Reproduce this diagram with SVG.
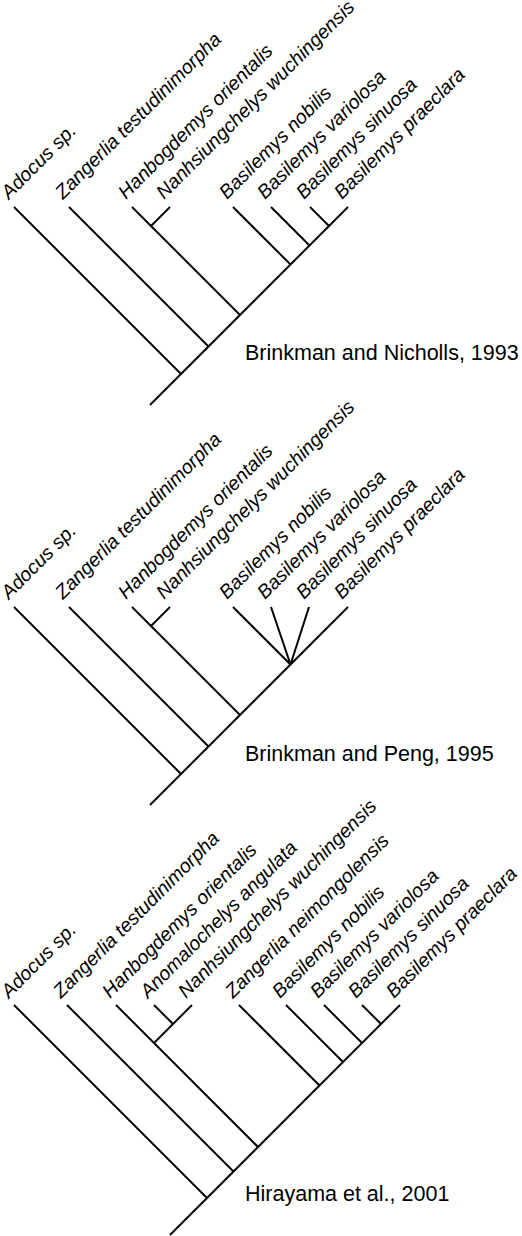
<svg xmlns="http://www.w3.org/2000/svg" width="522" height="1236" viewBox="0 0 522 1236">
<style>
.e{stroke:#000;stroke-width:2;fill:none;stroke-linecap:butt}
.l{font-family:"Liberation Sans",Arial,sans-serif;font-style:italic;font-size:19.5px;fill:#000}
.t{font-family:"Liberation Sans",Arial,sans-serif;font-size:21.5px;fill:#000}
</style>
<rect width="522" height="1236" fill="#fff"/>
<g id="tree1">
<g id="connectors1" class="e">
<line x1="150" y1="405" x2="348" y2="207"/>
<line x1="14" y1="207" x2="181" y2="374"/>
<line x1="69" y1="207" x2="208.5" y2="346.5"/>
<line x1="132" y1="207" x2="240" y2="315"/>
<line x1="170" y1="207" x2="151" y2="226"/>
<line x1="233" y1="207" x2="290.5" y2="264.5"/>
<line x1="271" y1="207" x2="309.5" y2="245.5"/>
<line x1="310" y1="207" x2="329" y2="226"/>
</g>
<g id="labels1" class="l">
<text transform="translate(9,200) rotate(-45)">Adocus sp.</text>
<text transform="translate(63,200) rotate(-45)">Zangerlia testudinimorpha</text>
<text transform="translate(126,200) rotate(-45)">Hanbogdemys orientalis</text>
<text transform="translate(164,200) rotate(-45)">Nanhsiungchelys wuchingensis</text>
<text transform="translate(227,200) rotate(-45)">Basilemys nobilis</text>
<text transform="translate(265,200) rotate(-45)">Basilemys variolosa</text>
<text transform="translate(304,200) rotate(-45)">Basilemys sinuosa</text>
<text transform="translate(342,200) rotate(-45)">Basilemys praeclara</text>
</g>
<text id="title1" class="t" x="245" y="360">Brinkman and Nicholls, 1993</text>
</g>
<g id="tree2">
<g id="connectors2" class="e">
<line x1="150" y1="805" x2="348" y2="607"/>
<line x1="14" y1="607" x2="181" y2="774"/>
<line x1="69" y1="607" x2="208.5" y2="746.5"/>
<line x1="132" y1="607" x2="240" y2="715"/>
<line x1="170" y1="607" x2="151" y2="626"/>
<line x1="233" y1="607" x2="290.5" y2="664.5"/>
<line x1="271" y1="607" x2="290.5" y2="664.5"/>
<line x1="309" y1="607" x2="290.5" y2="664.5"/>
</g>
<g id="labels2" class="l">
<text transform="translate(9,600) rotate(-45)">Adocus sp.</text>
<text transform="translate(63,600) rotate(-45)">Zangerlia testudinimorpha</text>
<text transform="translate(126,600) rotate(-45)">Hanbogdemys orientalis</text>
<text transform="translate(164,600) rotate(-45)">Nanhsiungchelys wuchingensis</text>
<text transform="translate(227,600) rotate(-45)">Basilemys nobilis</text>
<text transform="translate(265,600) rotate(-45)">Basilemys variolosa</text>
<text transform="translate(304,600) rotate(-45)">Basilemys sinuosa</text>
<text transform="translate(342,600) rotate(-45)">Basilemys praeclara</text>
</g>
<text id="title2" class="t" x="245" y="761">Brinkman and Peng, 1995</text>
</g>
<g id="tree3">
<g id="connectors3" class="e">
<line x1="170" y1="1235" x2="400" y2="1005"/>
<line x1="14" y1="1005" x2="207" y2="1198"/>
<line x1="67" y1="1005" x2="233.5" y2="1171.5"/>
<line x1="116" y1="1005" x2="258" y2="1147"/>
<line x1="154" y1="1005" x2="173" y2="1024"/>
<line x1="192" y1="1005" x2="154" y2="1043"/>
<line x1="239" y1="1005" x2="319.5" y2="1085.5"/>
<line x1="286" y1="1005" x2="343" y2="1062"/>
<line x1="324" y1="1005" x2="362" y2="1043"/>
<line x1="362" y1="1005" x2="381" y2="1024"/>
</g>
<g id="labels3" class="l">
<text transform="translate(9,999) rotate(-45)">Adocus sp.</text>
<text transform="translate(61,999) rotate(-45)">Zangerlia testudinimorpha</text>
<text transform="translate(110,999) rotate(-45)">Hanbogdemys orientalis</text>
<text transform="translate(148,999) rotate(-45)">Anomalochelys angulata</text>
<text transform="translate(186,999) rotate(-45)">Nanhsiungchelys wuchingensis</text>
<text transform="translate(233,999) rotate(-45)">Zangerlia neimongolensis</text>
<text transform="translate(280,999) rotate(-45)">Basilemys nobilis</text>
<text transform="translate(318,999) rotate(-45)">Basilemys variolosa</text>
<text transform="translate(356,999) rotate(-45)">Basilemys sinuosa</text>
<text transform="translate(394,999) rotate(-45)">Basilemys praeclara</text>
</g>
<text id="title3" class="t" x="245" y="1201">Hirayama et al., 2001</text>
</g>
</svg>
